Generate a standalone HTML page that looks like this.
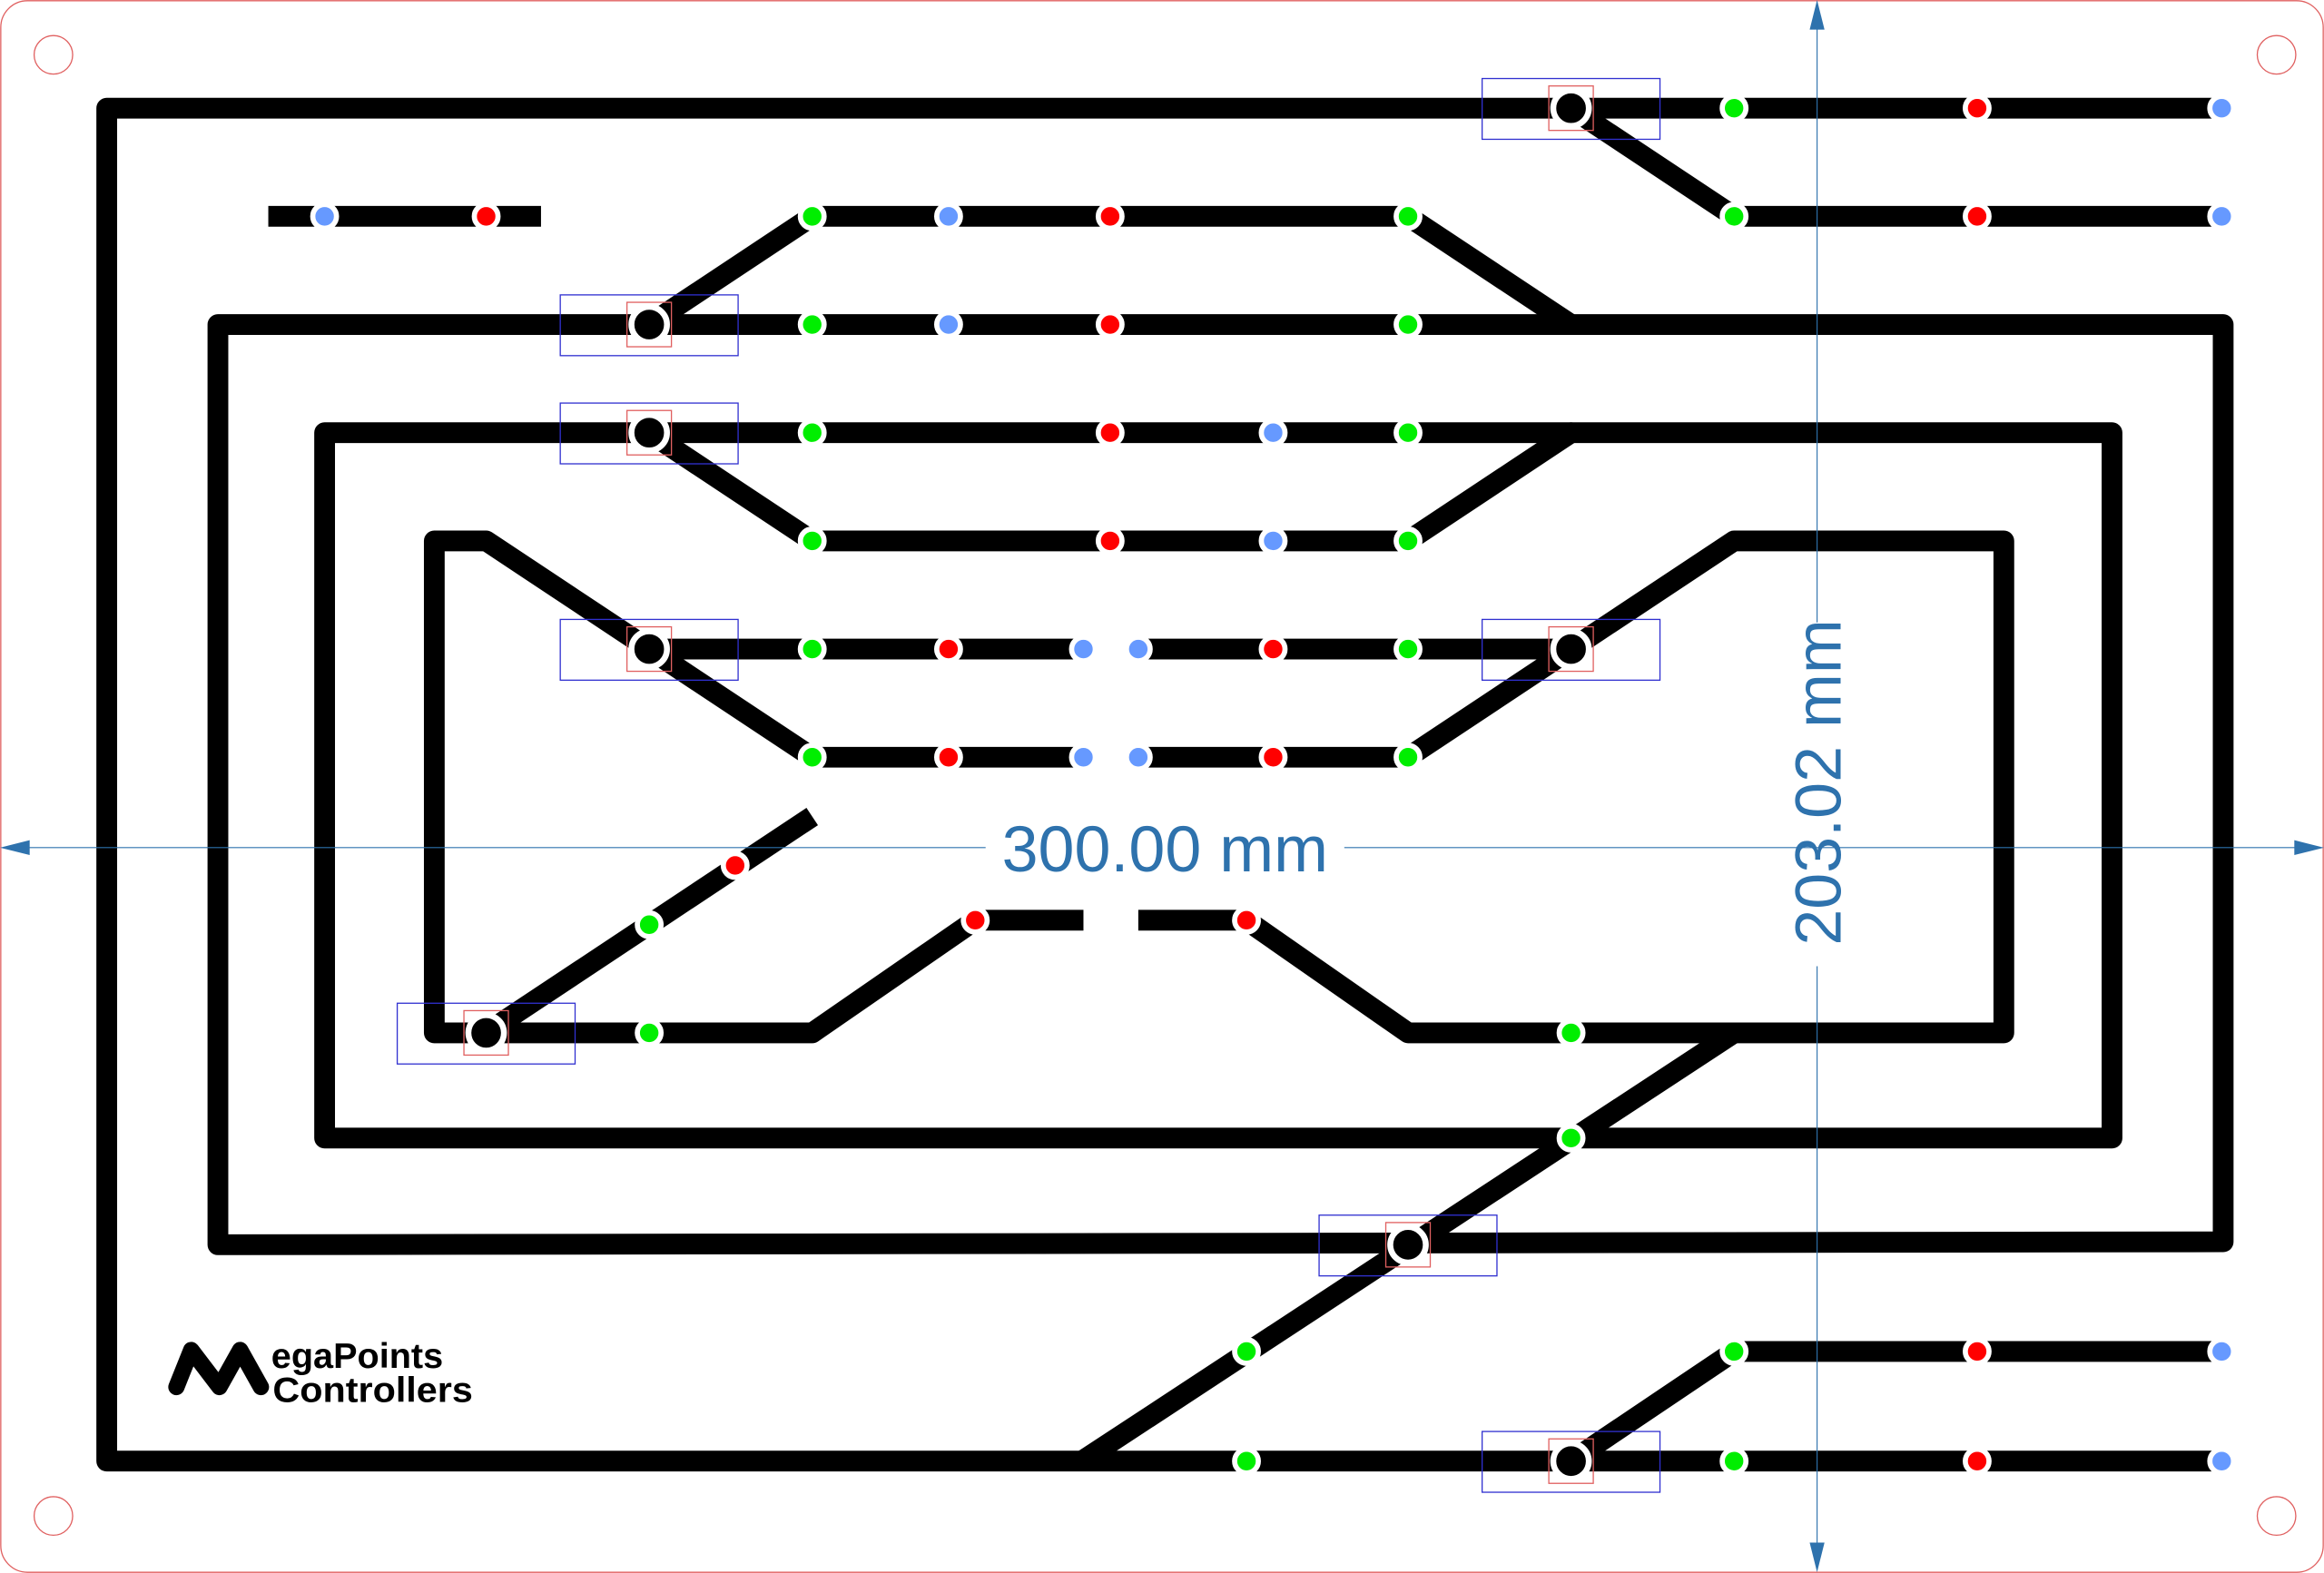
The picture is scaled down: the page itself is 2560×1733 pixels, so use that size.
<!DOCTYPE html>
<html><head><meta charset="utf-8"><style>html,body{margin:0;padding:0;background:#fff}svg{display:block}</style></head><body>
<svg width="2560" height="1733" viewBox="0 0 1568 1061.5" xmlns="http://www.w3.org/2000/svg">
<rect x="0.5" y="0.5" width="1567" height="1060.5" rx="18" fill="#fff" stroke="#e06060" stroke-width="0.8"/>
<g fill="none" stroke="#e06060" stroke-width="0.8">
<circle cx="36" cy="37" r="13"/><circle cx="1536" cy="37" r="13"/><circle cx="36" cy="1023" r="13"/><circle cx="1536" cy="1023" r="13"/>
</g>
<g fill="none" stroke="#000" stroke-width="14" stroke-linejoin="round" stroke-linecap="round">
<polyline points="1500,73 72,73 72,986 1500,986" stroke-linecap="butt"/>
<polyline points="1060,73 1170,146 1500,146" stroke-linecap="butt"/>
<line x1="181" y1="146" x2="365" y2="146" stroke-linecap="butt"/>
<polyline points="438,219 548,146 950,146 1060,219"/>
<polygon points="147,219 1500,219 1500,838 147,840"/>
<polygon points="219,292 1425,292 1425,768 219,768"/>
<polyline points="438,292 548,365 950,365 1060,292"/>
<polyline points="731,511 548,511 438,438 328,365 293,365 293,697 548,697 658,621 731,621" />
<polyline points="768,511 950,511 1060,438 1170,365 1352,365 1352,697 950,697 841,621 768,621"/>
<line x1="438" y1="438" x2="731" y2="438" stroke-linecap="butt"/>
<line x1="768" y1="438" x2="1060" y2="438" stroke-linecap="butt"/>
<line x1="328" y1="697" x2="548" y2="551" stroke-linecap="butt"/>
<line x1="730" y1="986" x2="1170" y2="697" stroke-linecap="butt"/>
<polyline points="1060,986 1170,912 1500,912" stroke-linecap="butt"/>
</g>
<g fill="#fff"><rect x="731" y="428" width="37" height="20"/><rect x="731" y="501" width="37" height="20"/><rect x="731" y="611" width="37" height="20"/></g>
<g fill="none" stroke-width="0.8">
<g stroke="#3030d0">
<rect x="1000" y="53" width="120" height="41"/><rect x="378" y="199" width="120" height="41"/><rect x="378" y="272" width="120" height="41"/><rect x="378" y="418" width="120" height="41"/><rect x="1000" y="418" width="120" height="41"/><rect x="268" y="677" width="120" height="41"/><rect x="890" y="820" width="120" height="41"/><rect x="1000" y="966" width="120" height="41"/>
</g>
<g stroke="#e06060">
<rect x="1045" y="58" width="30" height="30"/><rect x="423" y="204" width="30" height="30"/><rect x="423" y="277" width="30" height="30"/><rect x="423" y="423" width="30" height="30"/><rect x="1045" y="423" width="30" height="30"/><rect x="313" y="682" width="30" height="30"/><rect x="935" y="825" width="30" height="30"/><rect x="1045" y="971" width="30" height="30"/>
</g>
</g>
<g fill="#000" stroke="#fff" stroke-width="4">
<circle cx="1060" cy="73" r="12"/><circle cx="438" cy="219" r="12"/><circle cx="438" cy="292" r="12"/><circle cx="438" cy="438" r="12"/><circle cx="1060" cy="438" r="12"/><circle cx="328" cy="697" r="12"/><circle cx="950" cy="840" r="12"/><circle cx="1060" cy="986" r="12"/>
</g>
<g stroke="#fff" stroke-width="3.5">
<g fill="#00ee00">
<circle cx="1170" cy="73" r="8"/><circle cx="548" cy="146" r="8"/><circle cx="950" cy="146" r="8"/><circle cx="1170" cy="146" r="8"/>
<circle cx="548" cy="219" r="8"/><circle cx="950" cy="219" r="8"/><circle cx="548" cy="292" r="8"/><circle cx="950" cy="292" r="8"/>
<circle cx="548" cy="365" r="8"/><circle cx="950" cy="365" r="8"/><circle cx="548" cy="438" r="8"/><circle cx="950" cy="438" r="8"/>
<circle cx="548" cy="511" r="8"/><circle cx="950" cy="511" r="8"/><circle cx="438" cy="624" r="8"/><circle cx="438" cy="697" r="8"/>
<circle cx="1060" cy="697" r="8"/><circle cx="1060" cy="768" r="8"/><circle cx="841" cy="912" r="8"/><circle cx="841" cy="986" r="8"/>
<circle cx="1170" cy="912" r="8"/><circle cx="1170" cy="986" r="8"/>
</g>
<g fill="#ff0000">
<circle cx="1334" cy="73" r="8"/><circle cx="328" cy="146" r="8"/><circle cx="749" cy="146" r="8"/><circle cx="1334" cy="146" r="8"/>
<circle cx="749" cy="219" r="8"/><circle cx="749" cy="292" r="8"/><circle cx="749" cy="365" r="8"/>
<circle cx="640" cy="438" r="8"/><circle cx="859" cy="438" r="8"/><circle cx="640" cy="511" r="8"/><circle cx="859" cy="511" r="8"/>
<circle cx="496" cy="584" r="8"/><circle cx="658" cy="621" r="8"/><circle cx="841" cy="621" r="8"/>
<circle cx="1334" cy="912" r="8"/><circle cx="1334" cy="986" r="8"/>
</g>
<g fill="#6699ff">
<circle cx="1499" cy="73" r="8"/><circle cx="219" cy="146" r="8"/><circle cx="640" cy="146" r="8"/><circle cx="1499" cy="146" r="8"/>
<circle cx="640" cy="219" r="8"/><circle cx="859" cy="292" r="8"/><circle cx="859" cy="365" r="8"/>
<circle cx="731" cy="438" r="8"/><circle cx="768" cy="438" r="8"/><circle cx="731" cy="511" r="8"/><circle cx="768" cy="511" r="8"/>
<circle cx="1499" cy="912" r="8"/><circle cx="1499" cy="986" r="8"/>
</g>
</g>
<g stroke="#2e72ad" stroke-width="0.7">
<line x1="10" y1="572" x2="665" y2="572"/><line x1="907" y1="572" x2="1558" y2="572"/>
<line x1="1226" y1="10" x2="1226" y2="420"/><line x1="1226" y1="652" x2="1226" y2="1051"/>
</g>
<g fill="#2e72ad">
<polygon points="0,572 20,567 20,577"/><polygon points="1568,572 1548,567 1548,577"/>
<polygon points="1226,0 1221,20 1231,20"/><polygon points="1226,1061 1221,1041 1231,1041"/>
</g>
<text x="786" y="588" text-anchor="middle" font-family="Liberation Sans, sans-serif" font-size="44" fill="#2e72ad">300.00 mm</text>
<text transform="translate(1242,528) rotate(-90)" text-anchor="middle" font-family="Liberation Sans, sans-serif" font-size="44" fill="#2e72ad">203.02 mm</text>
<path d="M119,936 L129,911 L148,936 L162,911 L176,936" fill="none" stroke="#000" stroke-width="11" stroke-linecap="round" stroke-linejoin="round"/>
<text x="183" y="923" font-family="Liberation Sans, sans-serif" font-size="24" font-weight="bold" fill="#000" textLength="116" lengthAdjust="spacingAndGlyphs">egaPoints</text>
<text x="184" y="946" font-family="Liberation Sans, sans-serif" font-size="24" font-weight="bold" fill="#000" textLength="135" lengthAdjust="spacingAndGlyphs">Controllers</text>
</svg>
</body></html>
